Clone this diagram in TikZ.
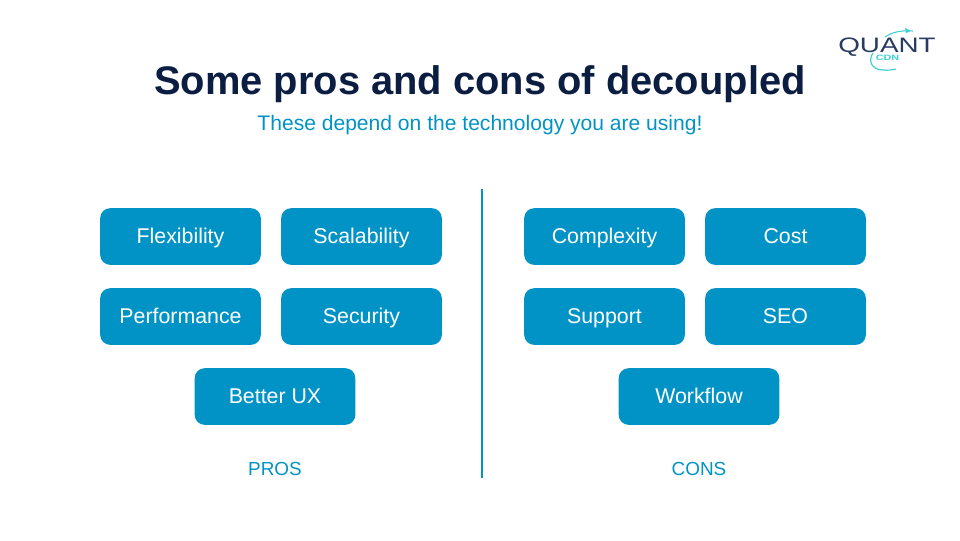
\documentclass[tikz,border=0pt]{standalone}
\usepackage{fontspec}
\setmainfont{Liberation Sans}
\definecolor{boxblue}{HTML}{0193C5}
\definecolor{navy}{HTML}{0B1D40}
\definecolor{teal}{HTML}{3FD0D4}
\definecolor{logonavy}{HTML}{2A3A60}
\tikzset{
  pill/.style={fill=boxblue,rounded corners=7.5pt,minimum width=120.5pt,minimum height=42.5pt,inner sep=0pt,text=white,font=\fontsize{16}{19}\selectfont,text height=11.5pt,text depth=1pt,anchor=center},
  side/.style={text=boxblue,font=\fontsize{14.2}{17}\selectfont,inner sep=0pt,anchor=base},
}
\begin{document}
\begin{tikzpicture}[x=0.75pt,y=-0.75pt]
\useasboundingbox (0,0) rectangle (960,540);
\node[inner sep=0pt,anchor=base,text=navy,font=\bfseries\fontsize{29.9}{36}\selectfont] (title) at (480,94.5) {Some pros and cons of decoupled};
\node[inner sep=0pt,anchor=base,text=boxblue,font=\fontsize{15.8}{19}\selectfont] (sub) at (480,130.5) {These depend on the technology you are using!};
\node[pill] (a1) at (180.5,236.5) {Flexibility};
\node[pill] (a2) at (361.5,236.5) {Scalability};
\node[pill] (a3) at (180.5,316.5) {Performance};
\node[pill] (a4) at (361.5,316.5) {Security};
\node[pill] (a5) at (275,396.5) {Better UX};
\node[pill] (b1) at (604.5,236.5) {Complexity};
\node[pill] (b2) at (785.5,236.5) {Cost};
\node[pill] (b3) at (604.5,316.5) {Support};
\node[pill] (b4) at (785.5,316.5) {SEO};
\node[pill] (b5) at (699,396.5) {Workflow};
\node[side] (pros) at (275,475) {PROS};
\node[side] (cons) at (699,475) {CONS};
\coordinate (divtop) at (482,189);
\coordinate (divbot) at (482,478);
\draw[boxblue,line width=1.5pt] (divtop) -- (divbot);
% logo
\node[inner sep=0pt,anchor=base,text=logonavy,text depth=0pt,font=\fontsize{15.7}{18}\selectfont] (quant) at (887,52) {\scalebox{1.33}[1]{QUANT}};
\node[inner sep=0pt,anchor=base,text=teal,font=\bfseries\fontsize{5.8}{7}\selectfont] (cdn) at (887.5,60.5) {\scalebox{1.4}[1]{CDN}};
\draw[teal,line width=0.8pt] (885,37) .. controls (892,32) and (902,30) .. (913,31);
\fill[teal] (911,31) -- (905,28) -- (906,33) -- cycle;
\draw[teal,line width=0.9pt] (873,53) .. controls (868,60) and (871,70) .. (883,70) .. controls (888,70.5) and (892,70) .. (896,69);
\end{tikzpicture}
\end{document}
